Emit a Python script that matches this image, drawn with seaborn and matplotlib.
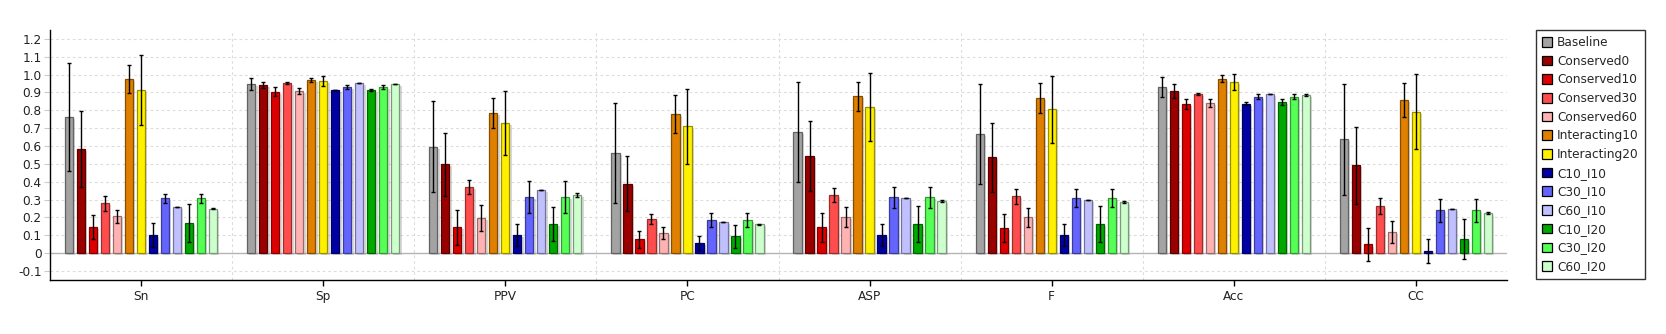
import numpy as np
import pandas as pd
import matplotlib
matplotlib.use("Agg")
import matplotlib.pyplot as plt
import matplotlib.patheffects as pe
from matplotlib.patches import Patch
from matplotlib.colors import to_rgb
import seaborn as sns

# Evaluation metrics on the x axis
metrics = ["Sn", "Sp", "PPV", "PC", "ASP", "F", "Acc", "CC"]

# Method names (hue levels)
methods = ["Baseline", "Conserved0", "Conserved10", "Conserved30", "Conserved60",
           "Interacting10", "Interacting20", "C10_I10", "C30_I10", "C60_I10",
           "C10_I20", "C30_I20", "C60_I20"]

# Mean scores per method, one value per metric
baseline      = [0.763, 0.948, 0.596, 0.561, 0.679, 0.667, 0.931, 0.639]
conserved0    = [0.583, 0.942, 0.499, 0.389, 0.544, 0.538, 0.908, 0.493]
conserved10   = [0.146, 0.903, 0.146, 0.079, 0.146, 0.140, 0.836, 0.050]
conserved30   = [0.280, 0.953, 0.370, 0.191, 0.325, 0.320, 0.892, 0.264]
conserved60   = [0.207, 0.908, 0.196, 0.112, 0.202, 0.202, 0.841, 0.118]
interacting10 = [0.976, 0.970, 0.785, 0.779, 0.880, 0.869, 0.976, 0.858]
interacting20 = [0.914, 0.964, 0.729, 0.712, 0.819, 0.807, 0.959, 0.791]
c10_i10       = [0.101, 0.914, 0.101, 0.056, 0.101, 0.101, 0.836, 0.011]
c30_i10       = [0.308, 0.931, 0.314, 0.185, 0.314, 0.308, 0.875, 0.241]
c60_i10       = [0.258, 0.953, 0.353, 0.174, 0.308, 0.297, 0.892, 0.247]
c10_i20       = [0.168, 0.914, 0.163, 0.095, 0.163, 0.163, 0.847, 0.079]
c30_i20       = [0.308, 0.931, 0.314, 0.185, 0.314, 0.308, 0.875, 0.241]
c60_i20       = [0.250, 0.948, 0.325, 0.163, 0.292, 0.286, 0.886, 0.224]

# Standard deviations per method, one value per metric
baseline_err      = [0.300, 0.032, 0.256, 0.279, 0.278, 0.278, 0.056, 0.311]
conserved0_err    = [0.213, 0.015, 0.177, 0.154, 0.196, 0.193, 0.037, 0.216]
conserved10_err   = [0.069, 0.025, 0.098, 0.048, 0.081, 0.079, 0.028, 0.093]
conserved30_err   = [0.041, 0.006, 0.041, 0.028, 0.038, 0.042, 0.006, 0.045]
conserved60_err   = [0.036, 0.018, 0.072, 0.033, 0.055, 0.053, 0.020, 0.062]
interacting10_err = [0.078, 0.013, 0.083, 0.108, 0.081, 0.084, 0.020, 0.093]
interacting20_err = [0.194, 0.028, 0.179, 0.210, 0.190, 0.188, 0.045, 0.210]
c10_i10_err       = [0.066, 0.002, 0.061, 0.039, 0.061, 0.061, 0.008, 0.067]
c30_i10_err       = [0.026, 0.013, 0.089, 0.039, 0.059, 0.052, 0.014, 0.065]
c60_i10_err       = [0.000, 0.000, 0.000, 0.000, 0.000, 0.000, 0.000, 0.000]
c10_i20_err       = [0.105, 0.005, 0.097, 0.065, 0.103, 0.103, 0.017, 0.112]
c30_i20_err       = [0.026, 0.013, 0.089, 0.039, 0.059, 0.052, 0.014, 0.065]
c60_i20_err       = [0.003, 0.001, 0.010, 0.003, 0.006, 0.006, 0.003, 0.006]

means = [baseline, conserved0, conserved10, conserved30, conserved60,
         interacting10, interacting20, c10_i10, c30_i10, c60_i10,
         c10_i20, c30_i20, c60_i20]
errors = [baseline_err, conserved0_err, conserved10_err, conserved30_err,
          conserved60_err, interacting10_err, interacting20_err, c10_i10_err,
          c30_i10_err, c60_i10_err, c10_i20_err, c30_i20_err, c60_i20_err]

colors = ["#a3a3a3", "#990000", "#dd0000", "#ff4c4c", "#ffb2b2",
          "#e08000", "#fff000", "#0000a3", "#6464ff", "#c0c0ff",
          "#00a800", "#55ff55", "#ccffcc"]

rows = []
for m, vals, errs in zip(methods, means, errors):
    for k, v, e in zip(metrics, vals, errs):
        rows.append({"metric": k, "method": m, "value": v, "err": e})
df = pd.DataFrame(rows)

sns.set_theme(style="white")
plt.rcParams["font.family"] = ["DejaVu Sans"]
FS = 8.7

W, H = 1666, 334
fig = plt.figure(figsize=(W / 100, H / 100), dpi=100)
ax = fig.add_axes([50 / W, 1 - 280 / H, (1507 - 50) / W, 250 / H])

sns.barplot(data=df, x="metric", y="value", hue="method", order=metrics,
            hue_order=methods, palette=colors, saturation=1, width=0.857,
            gap=0.31, errorbar=None, legend=False, ax=ax, zorder=3)

shadow = [pe.SimplePatchShadow(offset=(1.6, -1.6), shadow_rgbFace=(0.5, 0.5, 0.5),
                               alpha=0.3), pe.Normal()]

for cont, m, col in zip(ax.containers, methods, colors):
    edge = tuple(c * 0.6 for c in to_rgb(col))
    sub = df[df.method == m].set_index("metric").loc[metrics]
    xs, ys = [], []
    for bar in cont:
        bar.set_edgecolor(edge)
        bar.set_linewidth(0.9)
        bar.set_path_effects(shadow)
        xs.append(bar.get_x() + bar.get_width() / 2)
        ys.append(bar.get_height())
    ax.errorbar(xs, ys, yerr=sub["err"].values, fmt="none", ecolor="black",
                elinewidth=1.0, capsize=1.7, capthick=1.0, zorder=5)

# Zero baseline and grid
ax.axhline(0, color="#b4b4b4", lw=1.0, zorder=2)
ax.set_ylim(-0.15, 1.25)
ax.set_xlim(-0.5, len(metrics) - 0.5)
yt = np.round(np.arange(-0.1, 1.21, 0.1), 1)
ax.set_yticks(yt)
ax.set_yticklabels(["0" if abs(v) < 1e-9 else f"{v:.1f}" for v in yt], fontsize=FS)
for v in yt:
    if abs(v) > 1e-9:
        ax.axhline(v, color="#dcdcdc", lw=0.8, ls=(0, (2.5, 2.5)), zorder=1)
for b in np.arange(0.5, len(metrics) - 1, 1.0):
    ax.axvline(b, color="#dcdcdc", lw=0.8, ls=(0, (2.5, 2.5)), zorder=1)

ax.set_xlabel("")
ax.set_ylabel("")
ax.tick_params(axis="x", labelsize=FS, length=4.5, width=1, color="black",
               direction="out", bottom=True, pad=3)
ax.tick_params(axis="y", labelsize=FS, length=4, width=0.8, color="#cccccc",
               direction="out", left=True, pad=2)
for lbl in ax.get_xticklabels() + ax.get_yticklabels():
    lbl.set_color("#222222")
for s in ["top", "right"]:
    ax.spines[s].set_visible(False)
for s in ["left", "bottom"]:
    ax.spines[s].set_color("black")
    ax.spines[s].set_linewidth(1.0)
ax.set_facecolor("white")

handles = [Patch(facecolor=c, edgecolor="black", linewidth=0.9, label=m)
           for m, c in zip(methods, colors)]
leg = fig.legend(handles=handles, loc="upper left",
                 bbox_to_anchor=(1536 / W, 1 - 30 / H), frameon=True,
                 fancybox=False, edgecolor="black", fontsize=FS,
                 handlelength=0.85, handleheight=0.85, handletextpad=0.4,
                 labelspacing=0.47, borderpad=0.5, borderaxespad=0)
leg.get_frame().set_linewidth(1.0)

fig.savefig("out.png", dpi=100, facecolor="white")
